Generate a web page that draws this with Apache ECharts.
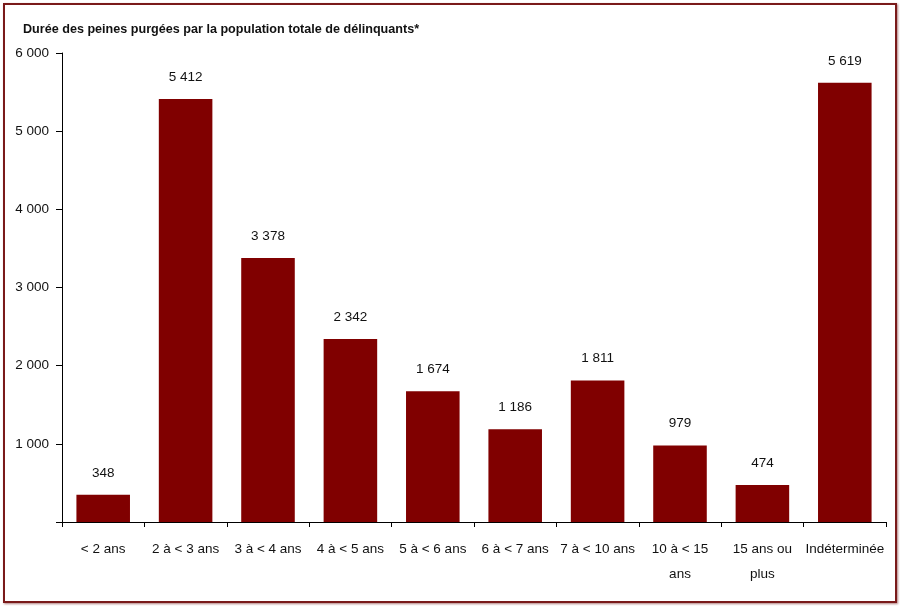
<!DOCTYPE html>
<html>
<head>
<meta charset="utf-8">
<script src="https://cdn.jsdelivr.net/npm/echarts@6/dist/echarts.min.js"></script>
<style>
  html, body { margin: 0; padding: 0; background: #fff; }
  #frame {
    position: absolute; left: 3px; top: 3px; width: 890px; height: 596px;
    border: 2px solid #7a1a1a; box-shadow: 1px 1px 2px #b08080;
  }
  #chart { position: absolute; left: 0; top: 0; width: 902px; height: 609px; }
</style>
</head>
<body>
<div id="frame"></div>
<div id="chart"></div>
<script>
// catégories (durée de la peine)
const categories = ['< 2 ans', '2 à < 3 ans', '3 à < 4 ans', '4 à < 5 ans', '5 à < 6 ans',
    '6 à < 7 ans', '7 à < 10 ans', '10 à < 15\nans', '15 ans ou\nplus', 'Indéterminée'];
// nombre de délinquants
const offenders = [348, 5412, 3378, 2342, 1674, 1186, 1811, 979, 474, 5619];

const fmt = (v) => String(v).replace(/\B(?=(\d{3})+(?!\d))/g, ' ');

const myChart = echarts.init(document.getElementById('chart'));
const FONT = '"Liberation Sans", Arial, sans-serif';

myChart.setOption({
    animation: false,
    title: {
        text: 'Durée des peines purgées par la population totale de délinquants*',
        left: 18,
        top: 18,
        textStyle: { fontFamily: FONT, fontSize: 12.6, fontWeight: 'bold', color: '#111' }
    },
    grid: { left: 62, right: 16, top: 53, bottom: 87 },
    xAxis: {
        type: 'category',
        data: categories,
        axisLine: { lineStyle: { color: '#000', width: 1 } },
        axisTick: { show: true, length: 5, lineStyle: { color: '#000' } },
        axisLabel: {
            interval: 0, margin: 15, color: '#111',
            fontFamily: FONT, fontSize: 13.5, lineHeight: 25
        }
    },
    yAxis: {
        type: 'value',
        min: 0, max: 6000, interval: 1000,
        splitLine: { show: false },
        axisLine: { show: true, lineStyle: { color: '#000', width: 1 } },
        axisTick: { show: true, length: 6, lineStyle: { color: '#000' } },
        axisLabel: {
            margin: 13, color: '#111', fontFamily: FONT, fontSize: 13.5,
            formatter: (v) => v === 0 ? '' : fmt(v)
        }
    },
    series: [{
        type: 'bar',
        data: offenders,
        barWidth: '65%',
        itemStyle: { color: '#800000' },
        label: {
            show: true, position: 'top', distance: 15,
            color: '#111', fontFamily: FONT, fontSize: 13.5,
            formatter: (p) => fmt(p.value)
        }
    }]
});
</script>
</body>
</html>
